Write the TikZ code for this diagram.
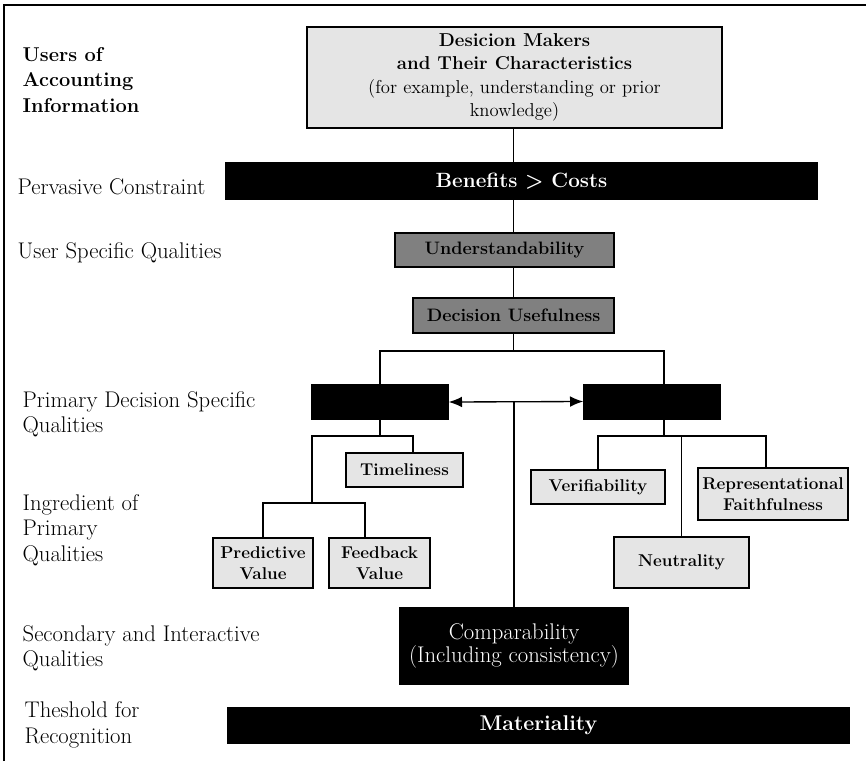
\documentclass[tikz,border=0pt]{standalone}
\usepackage{tikz}
\usetikzlibrary{arrows.meta}

\begin{document}
\begin{tikzpicture}[x=0.75pt, y=-0.75pt, line width=1pt,
                >={Latex[length=10pt,width=8pt]},
                box/.style={draw, line width=1pt, inner sep=1pt, align=center},
                lightbox/.style={box, fill=black!10, font=\bfseries\fontsize{12.8}{16}\selectfont},
                greybox/.style={box, fill=black!50, font=\bfseries\fontsize{13.5}{16}\selectfont},
                darkbox/.style={box, fill=black, text=white},
                rowlabel/.style={anchor=west, align=left, inner sep=0pt, font=\fontsize{17}{19}\selectfont}]
                \useasboundingbox (0,0) rectangle (866,761);
                \draw[line width=1pt] (4,761) -- (4,5) -- (866,5);

                \node[rowlabel, font=\bfseries\fontsize{15}{19}\selectfont] (users) at (22,80) {Users of\\Accounting\\Information};
                \node[rowlabel] (pervasive) at (17,187) {Pervasive Constraint};
                \node[rowlabel] (userq) at (17,253) {User Specific Qualities};
                \node[rowlabel] (primaryq) at (22,414) {Primary Decision Specific\\Qualities};
                \node[rowlabel] (ingredient) at (22,530) {Ingredient of\\Primary\\Qualities};
                \node[rowlabel] (secondary) at (22,648) {Secondary and Interactive\\Qualities};
                \node[rowlabel] (threshold) at (24,725) {Theshold for\\Recognition};

                \node[lightbox, minimum width=311.25pt, minimum height=75.75pt, font=\fontsize{14}{17.5}\selectfont] (makers) at (514.5,77.5) {\textbf{Desicion Makers}\\\textbf{and Their Characteristics}\\(for example, understanding or prior\\knowledge)};
                \node[darkbox, minimum width=443.25pt, minimum height=27pt, font=\bfseries\fontsize{15.5}{18}\selectfont] (benefits) at (521.5,181) {Benefits > Costs};
                \node[greybox, minimum width=164.25pt, minimum height=25.5pt] (underst) at (504.5,250) {Understandability};
                \node[greybox, minimum width=150.75pt, minimum height=26.25pt] (usefulness) at (513.5,315.5) {Decision Usefulness};

                \node[darkbox, minimum width=102pt, minimum height=25.5pt] (relevance) at (380,402) {};
                \node[darkbox, minimum width=102pt, minimum height=26pt] (reliability) at (652,401.5) {};

                \node[lightbox, minimum width=87.75pt, minimum height=25.5pt] (timeliness) at (404.5,470) {Timeliness};
                \node[lightbox, minimum width=75pt, minimum height=37.5pt] (predictive) at (263,563) {Predictive\\Value};
                \node[lightbox, minimum width=75.75pt, minimum height=37.5pt] (feedback) at (379.5,563) {Feedback\\Value};
                \node[lightbox, minimum width=100.5pt, minimum height=25.5pt] (verifiability) at (598,487) {Verifiability};
                \node[lightbox, minimum width=112.5pt, minimum height=39pt] (faithful) at (773,494) {Representational\\Faithfulness};
                \node[lightbox, minimum width=101.25pt, minimum height=38.25pt] (neutrality) at (681.5,562.5) {Neutrality};

                \node[darkbox, minimum width=171pt, minimum height=57pt, font=\fontsize{17}{17}\selectfont] (compar) at (514,646) {Comparability\\(Including consistency)};
                \node[darkbox, minimum width=465.75pt, minimum height=26.25pt, font=\bfseries\fontsize{16}{18}\selectfont] (materiality) at (538.5,725.5) {Materiality};

                \coordinate (split) at (513.5,351);
                \coordinate (relsplit) at (380,436);
                \coordinate (predsplit) at (312,503);
                \coordinate (relysplit) at (664,436);

                \draw (usefulness.south |- makers.south) -- (usefulness.south |- benefits.north);
                \draw (usefulness.south |- benefits.south) -- (usefulness.south |- underst.north);
                \draw (usefulness.south |- underst.south) -- (usefulness.north);
                \draw (usefulness.south) -- (split);
                \draw (relevance.north) |- (split) -| ([xshift=9pt]reliability.north);
                \draw[<->] (relevance.east) -- (reliability.west);
                \draw (compar.north |- relevance.east) -- (compar.north);
                \draw (relevance.south) -- (relsplit);
                \draw (predsplit) |- (relsplit) -| ([xshift=6.4pt]timeliness.north);
                \draw (predictive.north) |- (predsplit) -| ([xshift=-10.9pt]feedback.north);
                \draw ([xshift=9pt]reliability.south) -- (relysplit);
                \draw (verifiability.north) |- (relysplit) -| ([xshift=-5.25pt]faithful.north);
                \draw (relysplit -| neutrality.north) -- (neutrality.north);
\end{tikzpicture}
\end{document}
